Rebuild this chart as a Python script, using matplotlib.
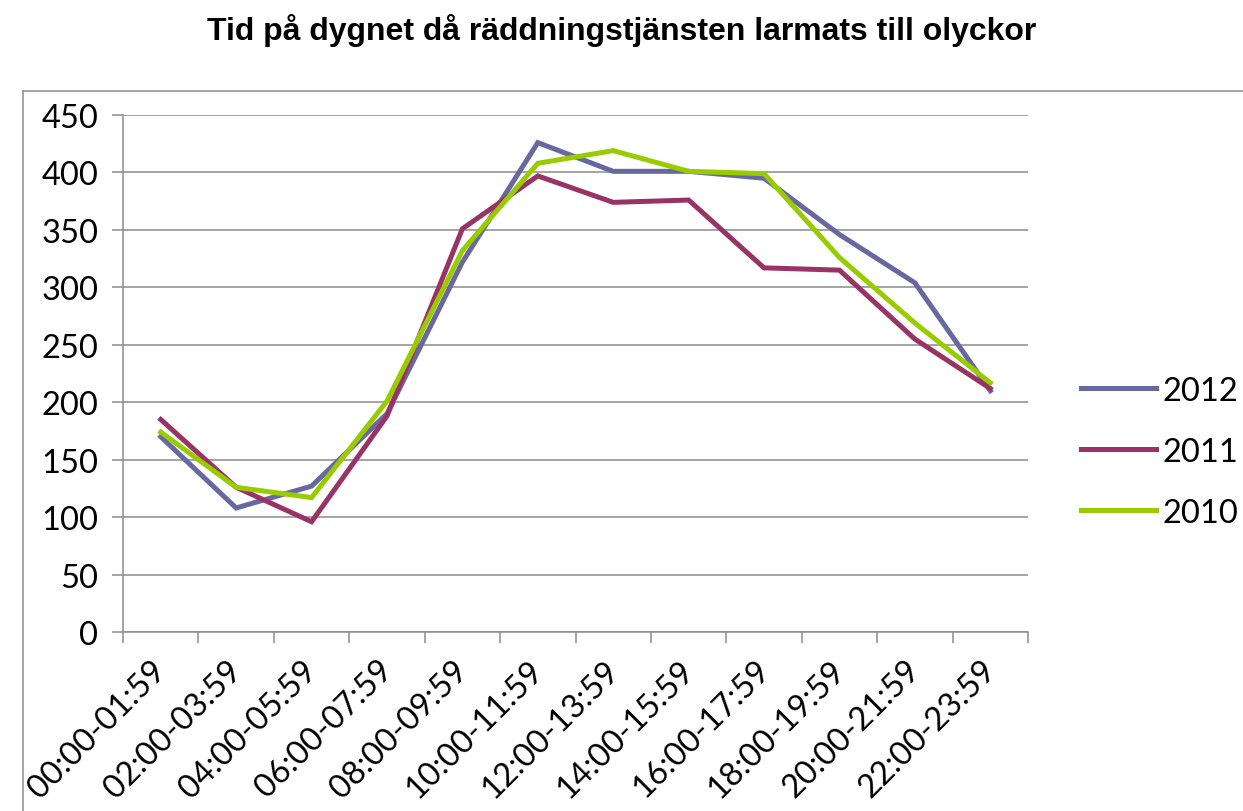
import matplotlib
matplotlib.use("Agg")
import matplotlib.pyplot as plt
from matplotlib.lines import Line2D
from matplotlib.transforms import ScaledTranslation

# Tidsintervall och antal larm per år
tider = ["00:00-01:59", "02:00-03:59", "04:00-05:59", "06:00-07:59",
         "08:00-09:59", "10:00-11:59", "12:00-13:59", "14:00-15:59",
         "16:00-17:59", "18:00-19:59", "20:00-21:59", "22:00-23:59"]
ar_2012 = [170, 108, 127, 190, 322, 426, 401, 401, 395, 346, 304, 210]
ar_2011 = [185, 126, 96, 188, 351, 397, 374, 376, 317, 315, 255, 212]
ar_2010 = [174, 126, 117, 201, 332, 408, 419, 401, 399, 326, 269, 217]
yticks = [0, 50, 100, 150, 200, 250, 300, 350, 400, 450]

fig = plt.figure(figsize=(12.43, 8.12), dpi=100)
ax = fig.add_axes([0.099, 0.2204, 0.728, 0.6367])

grid_col = "#8c8c8c"
fs = 23.5
x = range(len(tider))
ax.plot(x, ar_2012, color="#6868a0", lw=3.6, label="2012", solid_joinstyle="miter")
ax.plot(x, ar_2011, color="#993366", lw=3.6, label="2011", solid_joinstyle="miter")
ax.plot(x, ar_2010, color="#99cc00", lw=3.6, label="2010", solid_joinstyle="miter")

ax.set_xlim(-0.5, len(tider) - 0.5)
ax.set_ylim(0, 450)
ax.set_yticks(yticks)
ax.grid(axis="y", color=grid_col, lw=1.1)
ax.set_axisbelow(True)

# kategorigränser som huvudmarkeringar, etiketter i mitten
ax.set_xticks([i - 0.5 for i in range(len(tider) + 1)])
ax.set_xticklabels([])
ax.set_xticks(list(x), minor=True)
ax.set_xticklabels(tider, minor=True, rotation=45, ha="right", va="top",
                   rotation_mode="anchor", fontsize=fs, family="Lato")
ax.tick_params(axis="x", which="major", direction="out", length=8, color=grid_col, width=1.1)
ax.tick_params(axis="x", which="minor", length=0, pad=16)
ax.tick_params(axis="y", direction="out", length=8, color=grid_col, width=1.1, pad=10,
               labelsize=fs)
for lab in ax.get_yticklabels():
    lab.set_family("Lato")
skift = ScaledTranslation(-0.1, 0, fig.dpi_scale_trans)
for lab in ax.get_xticklabels(minor=True):
    lab.set_transform(lab.get_transform() + skift)

for s in ["top", "right"]:
    ax.spines[s].set_visible(False)
ax.spines["left"].set_color(grid_col)
ax.spines["bottom"].set_color(grid_col)
ax.spines["left"].set_linewidth(1.1)
ax.spines["bottom"].set_linewidth(1.1)

fig.text(0.5, 0.962, "Tid på dygnet då räddningstjänsten larmats till olyckor",
         ha="center", va="center", fontsize=23, fontweight="bold", family="Liberation Sans")

# ram runt diagramytan
x0 = 23 / 1243
ytop = 1 - 92 / 812
fig.add_artist(Line2D([x0, x0], [0, ytop], transform=fig.transFigure, color=grid_col, lw=1.1))
fig.add_artist(Line2D([x0, 1], [ytop, ytop], transform=fig.transFigure, color=grid_col, lw=1.1))

fig.legend(loc="center left", bbox_to_anchor=(0.8697, 0.4427), frameon=False,
           prop={"family": "Lato", "size": fs}, handlelength=2.3, handletextpad=0.2,
           labelspacing=0.95, borderpad=0, borderaxespad=0)

fig.savefig("out.png", dpi=100)
